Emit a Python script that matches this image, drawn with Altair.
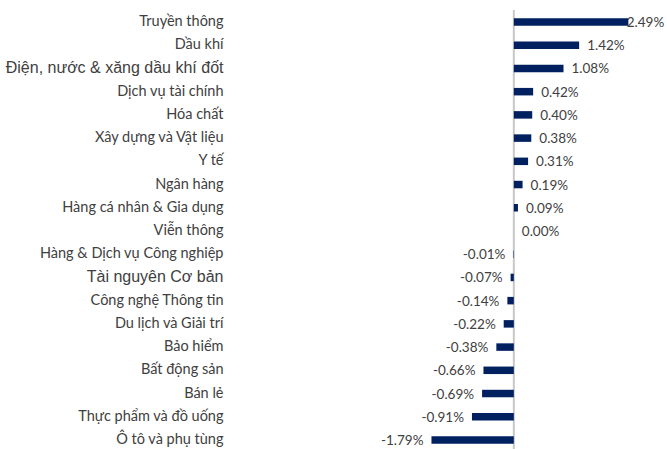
import altair as alt
import pandas as pd

categories = [
    "Truyền thông", "Dầu khí", "Điện, nước & xăng dầu khí đốt", "Dịch vụ tài chính",
    "Hóa chất", "Xây dựng và Vật liệu", "Y tế", "Ngân hàng",
    "Hàng cá nhân & Gia dụng", "Viễn thông", "Hàng & Dịch vụ Công nghiệp",
    "Tài nguyên Cơ bản", "Công nghệ Thông tin", "Du lịch và Giải trí",
    "Bảo hiểm", "Bất động sản", "Bán lẻ", "Thực phẩm và đồ uống", "Ô tô và phụ tùng",
]
values = [2.49, 1.42, 1.08, 0.42, 0.40, 0.38, 0.31, 0.19, 0.09, 0.00,
          -0.01, -0.07, -0.14, -0.22, -0.38, -0.66, -0.69, -0.91, -1.79]
arial_labels = ["Điện, nước & xăng dầu khí đốt", "Tài nguyên Cơ bản"]

df = pd.DataFrame({"cat": categories, "v": values})
zero_df = pd.DataFrame({"z": [0.0]})

TEXT = "#404040"
BAR = "#002060"
test = "indexof(['" + "','".join(arial_labels) + "'], datum.value) >= 0"

yenc = alt.Y(
    "cat:N", sort=categories, title=None,
    scale=alt.Scale(paddingInner=0.65, paddingOuter=0.4935, align=0.783),
    axis=alt.Axis(
        domain=False, ticks=False, grid=False, labelPadding=7, labelLimit=0,
        labelColor=TEXT,
        labelFont=alt.condition(test, alt.value("Liberation Sans"), alt.value("Lato")),
        labelFontSize=alt.condition(test, alt.value(16), alt.value(14.5)),
    ),
)
xscale = alt.Scale(domain=[-6.17, 3.33], nice=False, zero=False)

base = alt.Chart(df)

zero = alt.Chart(zero_df).mark_rule(color="#c8c8c8", strokeWidth=2).encode(
    x=alt.X("z:Q", scale=xscale, axis=None), y=alt.value(10), y2=alt.value(449)
)

bars = base.mark_bar(color=BAR, size=7.5).encode(
    x=alt.X("v:Q", scale=xscale, axis=None),
    x2=alt.datum(0),
    y=yenc,
)

pos_labels = base.transform_filter("datum.v >= 0").transform_calculate(
    lbl="format(datum.v, '.2f') + '%'",
    lx="min(datum.v, 2.28)",
).mark_text(align="left", baseline="middle", dx=8, dy=1, font="Lato", fontSize=13.5, color=TEXT).encode(
    x=alt.X("lx:Q"),
    y=alt.Y("cat:N", sort=categories),
    text="lbl:N",
)

neg_labels = base.transform_filter("datum.v < 0").transform_calculate(
    lbl="'-' + format(abs(datum.v), '.2f') + '%'",
).mark_text(align="right", baseline="middle", dx=-8, dy=1, font="Lato", fontSize=13.5, color=TEXT).encode(
    x=alt.X("v:Q"),
    y=alt.Y("cat:N", sort=categories),
    text="lbl:N",
)

chart = alt.layer(zero, bars, pos_labels, neg_labels).properties(
    width=437, height=449,
    autosize=alt.AutoSizeParams(type="none"),
    padding={"left": 230, "top": 0, "right": 0, "bottom": 0},
).configure_view(stroke=None)

chart.save("out.html", embed_options={"renderer": "svg", "actions": False})
